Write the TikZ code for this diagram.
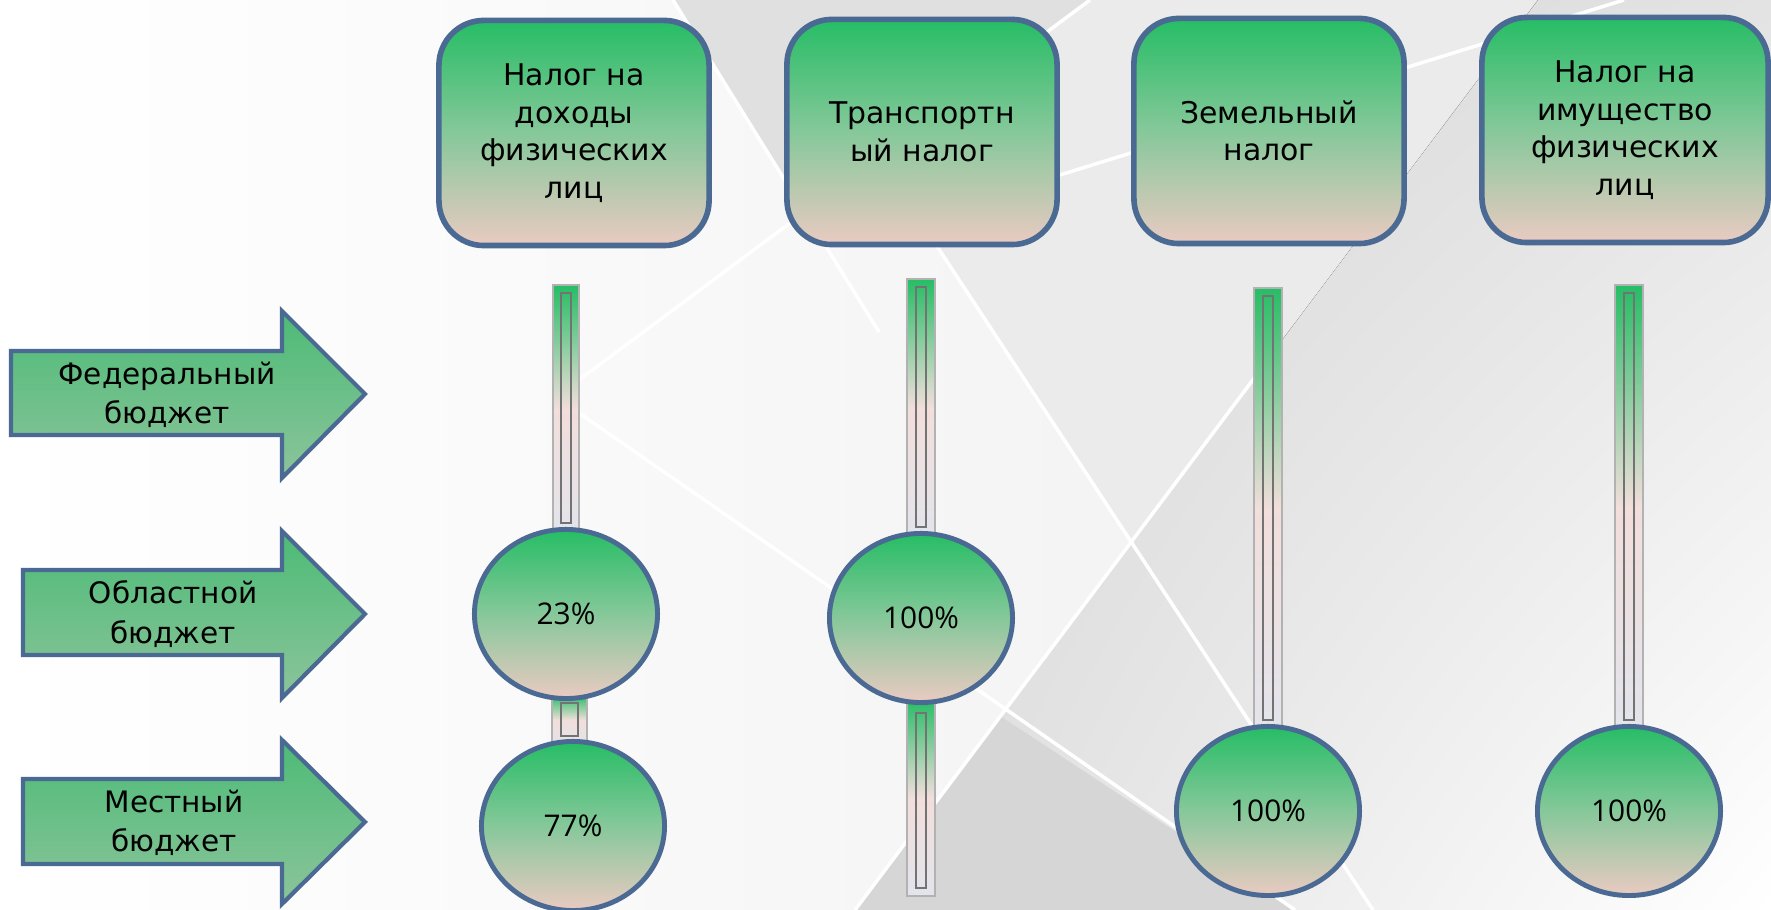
\documentclass[tikz,border=0pt]{standalone}
\usepackage{fontspec}
\setmainfont{DejaVu Sans}
\newfontfamily\pctfont{Open Sans}
\usetikzlibrary{shapes.geometric,calc,shadings}

\definecolor{leafgreen}{HTML}{26BD65}
\definecolor{midgreen}{HTML}{86C89A}
\definecolor{palepink}{HTML}{EACAC2}
\definecolor{steelrim}{HTML}{4B6A93}
\definecolor{arrowtop}{HTML}{4CBB76}
\definecolor{arrowbot}{HTML}{8CC49B}
\definecolor{stempale}{HTML}{F2DEDB}
\definecolor{stemgrey}{HTML}{E3E4EC}

\pgfdeclarelayer{backdrop}
\pgfdeclarelayer{rods}
\pgfsetlayers{backdrop,rods,main}

\tikzset{
  taxbox/.style={draw=steelrim, line width=1.6pt, rounded corners=0.45cm,
    minimum width=2.7cm, minimum height=2.25cm,
    top color=leafgreen, bottom color=palepink, middle color=midgreen,
    align=center, font=\fontsize{8.5}{10.7}\selectfont},
  share/.style={ellipse, draw=steelrim, line width=1.4pt,
    minimum width=1.83cm, minimum height=1.69cm,
    top color=leafgreen, bottom color=palepink, middle color=midgreen,
    font=\pctfont\fontsize{8.5}{10}\selectfont},
  stem/.style={draw=black!30, line width=0.6pt,
    top color=leafgreen, bottom color=stemgrey, middle color=stempale},
  stemcore/.style={draw=black!55, line width=0.4pt},
  budget/.style={draw=steelrim, line width=1.2pt, line join=miter,
    top color=arrowtop, bottom color=arrowbot},
  budgettext/.style={align=center, font=\fontsize{8.4}{11.2}\selectfont},
  bgline/.style={white, line width=1pt}
}

\begin{document}
\begin{tikzpicture}[x=0.01cm, y=-0.01cm]
  \useasboundingbox (0,0) rectangle (1771,910);

  % Налоги
  \node[taxbox] (ndfl) at (574,133) {Налог на\\доходы\\физических\\лиц};
  \node[taxbox] (trans) at (922,132) {Транспортн\\ый налог};
  \node[taxbox] (zem) at (1269,131) {Земельный\\налог};
  \node[taxbox, minimum width=2.86cm] (imush) at (1625,130) {Налог на\\имущество\\физических\\лиц};

  % Доли
  \node[share] (p23) at (566,614) {23\%};
  \node[share] (p77) at (573,826) {77\%};
  \node[share] (ptr) at (921,618) {100\%};
  \node[share] (pzem) at (1268,811) {100\%};
  \node[share] (pim) at (1629,811) {100\%};

  % Бюджеты
  \draw[budget] (11,351) -- (282,351) -- (282,311) -- (365,394) -- (282,478) -- (282,435) -- (11,435) -- cycle;
  \node[budgettext] (fed) at (167,395) {Федеральный\\бюджет};
  \draw[budget] (23,570) -- (282,570) -- (282,531) -- (365,614) -- (282,698) -- (282,655) -- (23,655) -- cycle;
  \node[budgettext] (obl) at (173,614) {Областной\\бюджет};
  \draw[budget] (23,779) -- (282,779) -- (282,740) -- (365,822) -- (282,904) -- (282,864) -- (23,864) -- cycle;
  \node[budgettext] (mest) at (174,823) {Местный\\бюджет};

  % Стержни
  \coordinate (r1) at (566,285);
  \coordinate (r2) at (921,279);
  \coordinate (r2b) at (921,896);
  \coordinate (r3) at (1268,288);
  \coordinate (r4) at (1629,285);
  \begin{pgfonlayer}{rods}
    \draw[stem] ($(r1)+(-13,0)$) rectangle ($(p23.north)+(13,6)$);
    \draw[stemcore] ($(r1)+(-5,8)$) rectangle ($(p23.north)+(5,-4)$);
    \draw[stem] ($(p23.south)+(-14,-6)$) rectangle ($(p77.north)+(14,6)$);
    \draw[stemcore] ($(p23.south)+(-5,2)$) rectangle ($(p77.north)+(5,-3)$);
    \draw[stem] ($(r2)+(-14,0)$) rectangle ($(ptr.north)+(14,6)$);
    \draw[stemcore] ($(r2)+(-5,8)$) rectangle ($(ptr.north)+(5,-4)$);
    \draw[stem] ($(ptr.south)+(-14,-6)$) rectangle ($(r2b)+(14,0)$);
    \draw[stemcore] ($(ptr.south)+(-5,8)$) rectangle ($(r2b)+(5,-8)$);
    \draw[stem] ($(r3)+(-14,0)$) rectangle ($(pzem.north)+(14,6)$);
    \draw[stemcore] ($(r3)+(-5,8)$) rectangle ($(pzem.north)+(5,-4)$);
    \draw[stem] ($(r4)+(-14,0)$) rectangle ($(pim.north)+(14,6)$);
    \draw[stemcore] ($(r4)+(-5,8)$) rectangle ($(pim.north)+(5,-4)$);
  \end{pgfonlayer}

  % Фон
  \begin{pgfonlayer}{backdrop}
    \fill[left color=white, right color=black!7] (0,0) rectangle (1771,910);
    \fill[black!12] (673,0) -- (1090,0) -- (804,211) -- cycle;
    \fill[black!8] (878,156) -- (1090,0) -- (1538,0) -- (1131,541) -- cycle;
    \fill[upper left=black!17, upper right=black!11, lower left=black!13, lower right=white]
      (1131,541) -- (1538,0) -- (1771,0) -- (1771,910) -- (855,910) -- cycle;
    \fill[black!16] (1000,716) -- (1295,910) -- (855,910) -- cycle;
    \draw[bgline] (556,397) -- (1090,0);
    \draw[bgline] (673,0) -- (879,332);
    \draw[bgline] (900,190) -- (1373,910);
    \draw[bgline] (556,397) -- (1295,910);
    \draw[bgline] (855,910) -- (1255,377);
    \draw[bgline] (1060,175) -- (1624,0);
  \end{pgfonlayer}
\end{tikzpicture}
\end{document}
